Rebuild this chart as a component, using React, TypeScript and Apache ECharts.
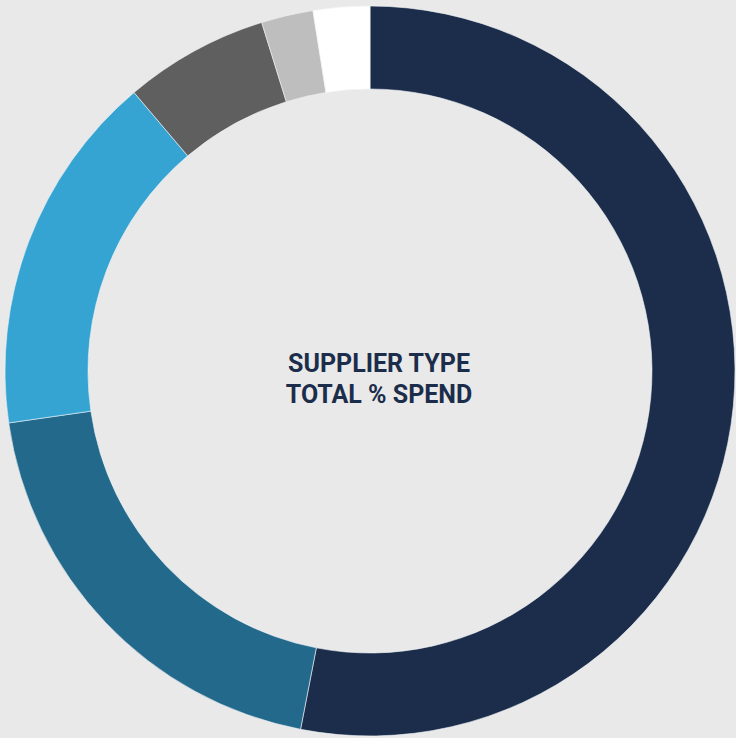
import React, { useEffect, useRef } from "react";
import * as echarts from "echarts";

const categories = ["Category A", "Category B", "Category C", "Category D", "Category E", "Category F"];
const spendShare = [53.1, 19.7, 16.1, 6.4, 2.3, 2.5];
const sliceColors = ["#1b2d4a", "#23698c", "#35a4d2", "#5f5f5f", "#bebebe", "#ffffff"];
const centerLines = ["SUPPLIER TYPE", "TOTAL % SPEND"];

export default function App() {
  const ref = useRef<HTMLDivElement>(null);
  useEffect(() => {
    document.body.style.margin = "0";
    const chart = echarts.init(ref.current!, null, { renderer: "svg" });
    chart.setOption({
      animation: false,
      backgroundColor: "#e9e9e9",
      series: [
        {
          type: "pie",
          center: [370, 371],
          radius: [282, 365],
          startAngle: 90,
          clockwise: true,
          label: { show: false },
          labelLine: { show: false },
          emphasis: { disabled: true },
          itemStyle: { borderColor: "#eef3f6", borderWidth: 0.6 },
          data: categories.map((name, i) => ({
            name,
            value: spendShare[i],
            itemStyle: { color: sliceColors[i] },
          })),
        },
      ],
      graphic: centerLines.map((t, i) => ({
        type: "text",
        x: 379,
        y: 363 + i * 31,
        style: {
          text: t,
          fill: "#1b2d4a",
          font: "bold 25px Roboto",
          textAlign: "center",
          textVerticalAlign: "middle",
        },
      })),
    });
    return () => chart.dispose();
  }, []);
  return <div ref={ref} style={{ width: 736, height: 738 }} />;
}
